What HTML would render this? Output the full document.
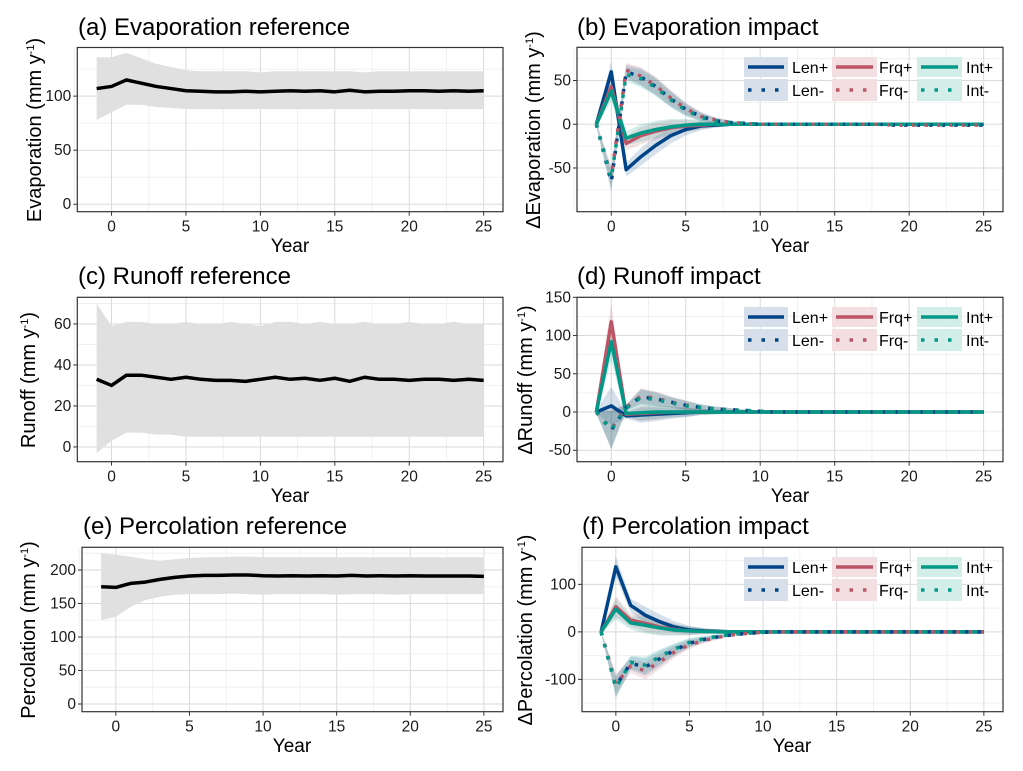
<!DOCTYPE html>
<html><head><meta charset="utf-8"><style>
html,body{margin:0;padding:0;background:#fff;}
svg{display:block;font-family:"Liberation Sans",Arial,sans-serif;}
</style></head><body>
<svg id="chart" width="1023" height="771" viewBox="0 0 1023 771">
<rect x="0" y="0" width="1023" height="771" fill="#fff"/>
<g id="layer"></g>
<text x="78" y="35" font-size="24" fill="#000">(a) Evaporation reference</text>
<text x="577" y="35" font-size="24" fill="#000">(b) Evaporation impact</text>
<text x="78" y="284" font-size="24" fill="#000">(c) Runoff reference</text>
<text x="577" y="284" font-size="24" fill="#000">(d) Runoff impact</text>
<text x="83" y="534" font-size="24" fill="#000">(e) Percolation reference</text>
<text x="582" y="534" font-size="24" fill="#000">(f) Percolation impact</text>
<text x="290" y="252" font-size="19" text-anchor="middle">Year</text>
<text x="790" y="252" font-size="19" text-anchor="middle">Year</text>
<text x="290" y="502" font-size="19" text-anchor="middle">Year</text>
<text x="790" y="502" font-size="19" text-anchor="middle">Year</text>
<text x="292" y="752" font-size="19" text-anchor="middle">Year</text>
<text x="792" y="752" font-size="19" text-anchor="middle">Year</text>
<text transform="translate(41,130) rotate(-90)" font-size="20" text-anchor="middle">Evaporation (mm y<tspan font-size="11" dy="-7">-1</tspan><tspan dy="7">)</tspan></text>
<text transform="translate(540,130) rotate(-90)" font-size="20" text-anchor="middle">ΔEvaporation (mm y<tspan font-size="11" dy="-7">-1</tspan><tspan dy="7">)</tspan></text>
<text transform="translate(35,380) rotate(-90)" font-size="20" text-anchor="middle">Runoff (mm y<tspan font-size="11" dy="-7">-1</tspan><tspan dy="7">)</tspan></text>
<text transform="translate(532,380) rotate(-90)" font-size="20" text-anchor="middle">ΔRunoff (mm y<tspan font-size="11" dy="-7">-1</tspan><tspan dy="7">)</tspan></text>
<text transform="translate(35,630) rotate(-90)" font-size="20" text-anchor="middle">Percolation (mm y<tspan font-size="11" dy="-7">-1</tspan><tspan dy="7">)</tspan></text>
<text transform="translate(532,630) rotate(-90)" font-size="20" text-anchor="middle">ΔPercolation (mm y<tspan font-size="11" dy="-7">-1</tspan><tspan dy="7">)</tspan></text>
<g transform="translate(0,0)">
 <g><rect x="744" y="57" width="44" height="20" fill="#d6dfea"/><line x1="748" x2="784" y1="67" y2="67" stroke="#004488" stroke-width="3.5"/><text x="792" y="73" font-size="16">Len+</text></g>
 <g><rect x="832" y="57" width="45" height="20" fill="#f3dfe2"/><line x1="836" x2="873" y1="67" y2="67" stroke="#bb5566" stroke-width="3.5"/><text x="879" y="73" font-size="16">Frq+</text></g>
 <g><rect x="917" y="57" width="45" height="20" fill="#d3ede9"/><line x1="921" x2="958" y1="67" y2="67" stroke="#009988" stroke-width="3.5"/><text x="966" y="73" font-size="16">Int+</text></g>
 <g><rect x="744" y="79" width="44" height="22" fill="#d6dfea"/><line x1="748" x2="784" y1="90" y2="90" stroke="#004488" stroke-width="3.5" stroke-dasharray="3.5 10"/><text x="792" y="96" font-size="16">Len-</text></g>
 <g><rect x="832" y="79" width="45" height="22" fill="#f3dfe2"/><line x1="836" x2="873" y1="90" y2="90" stroke="#bb5566" stroke-width="3.5" stroke-dasharray="3.5 10"/><text x="879" y="96" font-size="16">Frq-</text></g>
 <g><rect x="917" y="79" width="45" height="22" fill="#d3ede9"/><line x1="921" x2="958" y1="90" y2="90" stroke="#009988" stroke-width="3.5" stroke-dasharray="3.5 10"/><text x="966" y="96" font-size="16">Int-</text></g>
</g>
<g transform="translate(0,250)">
 <g><rect x="744" y="57" width="44" height="20" fill="#d6dfea"/><line x1="748" x2="784" y1="67" y2="67" stroke="#004488" stroke-width="3.5"/><text x="792" y="73" font-size="16">Len+</text></g>
 <g><rect x="832" y="57" width="45" height="20" fill="#f3dfe2"/><line x1="836" x2="873" y1="67" y2="67" stroke="#bb5566" stroke-width="3.5"/><text x="879" y="73" font-size="16">Frq+</text></g>
 <g><rect x="917" y="57" width="45" height="20" fill="#d3ede9"/><line x1="921" x2="958" y1="67" y2="67" stroke="#009988" stroke-width="3.5"/><text x="966" y="73" font-size="16">Int+</text></g>
 <g><rect x="744" y="79" width="44" height="22" fill="#d6dfea"/><line x1="748" x2="784" y1="90" y2="90" stroke="#004488" stroke-width="3.5" stroke-dasharray="3.5 10"/><text x="792" y="96" font-size="16">Len-</text></g>
 <g><rect x="832" y="79" width="45" height="22" fill="#f3dfe2"/><line x1="836" x2="873" y1="90" y2="90" stroke="#bb5566" stroke-width="3.5" stroke-dasharray="3.5 10"/><text x="879" y="96" font-size="16">Frq-</text></g>
 <g><rect x="917" y="79" width="45" height="22" fill="#d3ede9"/><line x1="921" x2="958" y1="90" y2="90" stroke="#009988" stroke-width="3.5" stroke-dasharray="3.5 10"/><text x="966" y="96" font-size="16">Int-</text></g>
</g>
<g transform="translate(0,500)">
 <g><rect x="744" y="57" width="44" height="20" fill="#d6dfea"/><line x1="748" x2="784" y1="67" y2="67" stroke="#004488" stroke-width="3.5"/><text x="792" y="73" font-size="16">Len+</text></g>
 <g><rect x="832" y="57" width="45" height="20" fill="#f3dfe2"/><line x1="836" x2="873" y1="67" y2="67" stroke="#bb5566" stroke-width="3.5"/><text x="879" y="73" font-size="16">Frq+</text></g>
 <g><rect x="917" y="57" width="45" height="20" fill="#d3ede9"/><line x1="921" x2="958" y1="67" y2="67" stroke="#009988" stroke-width="3.5"/><text x="966" y="73" font-size="16">Int+</text></g>
 <g><rect x="744" y="79" width="44" height="22" fill="#d6dfea"/><line x1="748" x2="784" y1="90" y2="90" stroke="#004488" stroke-width="3.5" stroke-dasharray="3.5 10"/><text x="792" y="96" font-size="16">Len-</text></g>
 <g><rect x="832" y="79" width="45" height="22" fill="#f3dfe2"/><line x1="836" x2="873" y1="90" y2="90" stroke="#bb5566" stroke-width="3.5" stroke-dasharray="3.5 10"/><text x="879" y="96" font-size="16">Frq-</text></g>
 <g><rect x="917" y="79" width="45" height="22" fill="#d3ede9"/><line x1="921" x2="958" y1="90" y2="90" stroke="#009988" stroke-width="3.5" stroke-dasharray="3.5 10"/><text x="966" y="96" font-size="16">Int-</text></g>
</g>
</svg>
<script>
const years = [-1,0,1,2,3,4,5,6,7,8,9,10,11,12,13,14,15,16,17,18,19,20,21,22,23,24,25];
const xTicks = [0,5,10,15,20,25];

const evapRefMean  = [107,109,115,112,109,107,105,104.5,104,104,104.5,104,104.5,105,104.5,105,104,105.5,104,104.5,104.5,105,105,104.5,105,104.5,105];
const evapRefUpper = [136,136,140,135,130,127,124,123,123,123,123,122,123,123,123,123,123,123,122,123,123,123,123,123,123,123,123];
const evapRefLower = [78,85,92,92,90,89,88,88,88,88,88,88,88,88,88,88,88,88,88,88,88,88,88,88,88,88,88];
const runRefMean  = [33,30,35,35,34,33,34,33,32.5,32.5,32,33,34,33,33.5,32.5,33.5,32,34,33,33,32.5,33,33,32.5,33,32.5];
const runRefUpper = [70,59,61,61,60,60,61,60,60,61,60,59,61,61,60,61,60,60,61,60,60,61,60,60,61,60,60];
const runRefLower = [-3,3,7,7,6,6,5,5,5,5,5,5,5,5,5,5,5,5,5,5,5,5,5,5,5,5,5];
const percRefMean  = [175,174,180,182,186,189,191,192,192,192.5,192.5,191.5,191,191.5,191,191.5,191,192,191,191.5,191,191.5,191,191,191,191,190.5];
const percRefUpper = [225,223,220,216,214,216,218,219,219,220,220,219,219,219,219,219,219,219,219,219,219,219,219,219,219,219,219];
const percRefLower = [125,130,145,155,160,163,164,164,164,165,164,163,164,164,164,164,163,164,164,164,163,164,164,164,164,164,164];

const evapLenPlus  = [0,60,-52,-37,-24,-13,-6,-2,-1,0,0,0,0,0,0,0,0,0,0,0,0,0,0,0,0,0,0];
const evapFrqPlus  = [0,43,-22,-13,-8,-4,-2,-1,0,0,0,0,0,0,0,0,0,0,0,0,0,0,0,0,0,0,0];
const evapIntPlus  = [0,38,-16,-10,-6,-3,-1,0,0,0,0,0,0,0,0,0,0,0,0,0,0,0,0,0,0,0,0];
const evapLenMinus = [0,-66,60,54,43,29,17,9,4,2,1,0,0,0,0,0,0,0,0,0,-1,-1,-1,-1,-1,-1,-1];
const evapFrqMinus = [0,-60,62,55,44,30,18,9,5,2,1,0,0,0,0,0,0,0,0,0,-1,-1,-1,-1,-1,-1,-1];
const evapIntMinus = [0,-62,57,52,42,28,16,8,4,2,1,0,0,0,0,0,0,0,0,0,0,0,0,0,0,0,0];
const evapSd       = [2,12,8,10,10,9,7,5,3,2,1,1,1,1,1,1,1,1,1,1,1,1,1,1,1,1,1];

const runLenPlus  = [0,8,-5,-4,-3,-2,-1,0,0,0,0,0,0,0,0,0,0,0,0,0,0,0,0,0,0,0,0];
const runFrqPlus  = [0,118,-3,-2,-1,0,0,0,0,0,0,0,0,0,0,0,0,0,0,0,0,0,0,0,0,0,0];
const runIntPlus  = [0,92,-2,-1,0,0,0,0,0,0,0,0,0,0,0,0,0,0,0,0,0,0,0,0,0,0,0];
const runLenMinus = [0,-24,6,20,17,13,9,6,4,3,2,1,0,0,0,0,0,0,0,0,0,0,0,0,0,0,0];
const runFrqMinus = [0,-22,6,21,18,13,9,6,4,3,2,1,0,0,0,0,0,0,0,0,0,0,0,0,0,0,0];
const runIntMinus = [0,-23,5,19,16,12,8,6,4,3,2,1,0,0,0,0,0,0,0,0,0,0,0,0,0,0,0];
const runSd       = [2,25,4,10,9,7,6,4,3,2,1,1,1,1,1,1,1,1,1,1,1,1,1,1,1,1,1];

const percLenPlus  = [0,137,56,35,21,10,4,2,1,0,0,0,0,0,0,0,0,0,0,0,0,0,0,0,0,0,0];
const percFrqPlus  = [0,53,25,18,10,5,2,1,0,0,0,0,0,0,0,0,0,0,0,0,0,0,0,0,0,0,0];
const percIntPlus  = [0,48,19,14,8,4,2,1,0,0,0,0,0,0,0,0,0,0,0,0,0,0,0,0,0,0,0];
const percLenMinus = [0,-114,-66,-74,-56,-38,-24,-16,-10,-6,-3,-1,0,0,0,0,0,0,0,0,0,0,0,0,0,0,0];
const percFrqMinus = [0,-110,-72,-82,-62,-42,-27,-18,-11,-6,-3,-1,0,0,0,0,0,0,0,0,0,0,0,0,0,0,0];
const percIntMinus = [0,-118,-64,-70,-52,-36,-22,-14,-9,-5,-3,-1,0,0,0,0,0,0,0,0,0,0,0,0,0,0,0];
const percSd       = [2,22,14,18,16,12,9,6,4,2,1,1,1,1,1,1,1,1,1,1,1,1,1,1,1,1,1];

const evapRefTicks = [0,50,100];
const evapImpTicks = [-50,0,50];
const runRefTicks = [0,20,40,60];
const runImpTicks = [-50,0,50,100,150];
const percRefTicks = [0,50,100,150,200];
const percImpTicks = [-100,0,100];

const NS = "http://www.w3.org/2000/svg";
const layer = document.getElementById("layer");
const COLORS = {len:"#004488", frq:"#bb5566", int:"#009988"};

function mk(tag, attrs, parent){
  const e = document.createElementNS(NS, tag);
  for (const k in attrs) e.setAttribute(k, attrs[k]);
  (parent||layer).appendChild(e);
  return e;
}

function makePanel(name, L, R, T, B, ymin, ymax, yTicks){
  const g = mk("g", {});
  
  
  const xs = v => L + (v + 2.3) / 28.6 * (R - L);
  const ys = v => B - (v - ymin) / (ymax - ymin) * (B - T);
  const step = yTicks[1] - yTicks[0];
  for (let v = yTicks[0] - step/2; v <= ymax; v += step) {
    if (v < ymin) continue;
    const ln = mk("line", {x1:L, x2:R, y1:ys(v), y2:ys(v), stroke:"#f0f0f0", "stroke-width":1}, g);
    
    
  }
  for (let v = -2.5; v <= 26; v += 5) {
    const ln = mk("line", {x1:xs(v), x2:xs(v), y1:T, y2:B, stroke:"#f0f0f0", "stroke-width":1}, g);
    
    
  }
  yTicks.forEach(v => {
    const ln = mk("line", {x1:L, x2:R, y1:ys(v), y2:ys(v), stroke:"#dadada", "stroke-width":1}, g);
    
    
    const tk = mk("line", {x1:L-4, x2:L, y1:ys(v), y2:ys(v), stroke:"#333", "stroke-width":1}, g);
    
    
    const t = mk("text", {x:L-6, y:ys(v)+5, "font-size":15.5, "text-anchor":"end", fill:"#1a1a1a"}, g);
    
    
    t.textContent = v;
  });
  xTicks.forEach(v => {
    const ln = mk("line", {x1:xs(v), x2:xs(v), y1:T, y2:B, stroke:"#dadada", "stroke-width":1}, g);
    
    
    const tk = mk("line", {x1:xs(v), x2:xs(v), y1:B, y2:B+4, stroke:"#333", "stroke-width":1}, g);
    
    
    const t = mk("text", {x:xs(v), y:B+20, "font-size":15.5, "text-anchor":"middle", fill:"#1a1a1a"}, g);
    
    
    t.textContent = v;
  });
  const marks = mk("g", {}, g);
  
  
  const border = mk("rect", {x:L, y:T, width:R-L, height:B-T, fill:"none", stroke:"#333", "stroke-width":1.2}, g);
  
  
  return {xs, ys, marks};
}

function bandPath(p, upper, lower){
  let d = "";
  years.forEach((yr,i) => { d += (i ? "L" : "M") + p.xs(yr).toFixed(2) + "," + p.ys(upper[i]).toFixed(2); });
  for (let i = years.length - 1; i >= 0; i--) d += "L" + p.xs(years[i]).toFixed(2) + "," + p.ys(lower[i]).toFixed(2);
  return d + "Z";
}
function linePath(p, vals){
  let d = "";
  years.forEach((yr,i) => { d += (i ? "L" : "M") + p.xs(yr).toFixed(2) + "," + p.ys(vals[i]).toFixed(2); });
  return d;
}

function refPanel(name, cfg, mean, up, lo){
  const p = makePanel(name, ...cfg);
  const band = mk("path", {d:bandPath(p, up, lo), fill:"#e0e0e0"}, p.marks);
  
  
  const ln = mk("path", {d:linePath(p, mean), fill:"none", stroke:"#000", "stroke-width":3.5, "stroke-linejoin":"round"}, p.marks);
  
  
}

function impactPanel(name, cfg, series, sd){
  const p = makePanel(name, ...cfg);
  series.forEach(s => {
    const up = s.vals.map((v,i) => v + sd[i]);
    const lo = s.vals.map((v,i) => v - sd[i]);
    const band = mk("path", {d:bandPath(p, up, lo), fill:COLORS[s.key], "fill-opacity":0.16}, p.marks);
    
    
  });
  series.forEach(s => {
    const attrs = {d:linePath(p, s.vals), fill:"none", stroke:COLORS[s.key], "stroke-width":3.5, "stroke-linejoin":"round"};
    if (s.dot) attrs["stroke-dasharray"] = "3.5 9";
    const ln = mk("path", attrs, p.marks);
    
    
  });
}

refPanel("panel-a", [77.3,503,47.5,211.7,-6.9,145,evapRefTicks], evapRefMean, evapRefUpper, evapRefLower);
refPanel("panel-c", [77.3,503,297.3,461.7,-7.2,73,runRefTicks], runRefMean, runRefUpper, runRefLower);
refPanel("panel-e", [82,503,547.3,711.7,-11.5,233.9,percRefTicks], percRefMean, percRefUpper, percRefLower);

impactPanel("panel-b", [577,1003,47.3,211.7,-100,88,evapImpTicks], [
  {id:"len-plus",key:"len",vals:evapLenPlus},{id:"frq-plus",key:"frq",vals:evapFrqPlus},{id:"int-plus",key:"int",vals:evapIntPlus},
  {id:"len-minus",key:"len",vals:evapLenMinus,dot:1},{id:"frq-minus",key:"frq",vals:evapFrqMinus,dot:1},{id:"int-minus",key:"int",vals:evapIntMinus,dot:1}], evapSd);
impactPanel("panel-d", [577,1003,297.3,461.7,-65,150,runImpTicks], [
  {id:"len-plus",key:"len",vals:runLenPlus},{id:"frq-plus",key:"frq",vals:runFrqPlus},{id:"int-plus",key:"int",vals:runIntPlus},
  {id:"len-minus",key:"len",vals:runLenMinus,dot:1},{id:"frq-minus",key:"frq",vals:runFrqMinus,dot:1},{id:"int-minus",key:"int",vals:runIntMinus,dot:1}], runSd);
impactPanel("panel-f", [582,1003,547.3,711.7,-168,178,percImpTicks], [
  {id:"len-plus",key:"len",vals:percLenPlus},{id:"frq-plus",key:"frq",vals:percFrqPlus},{id:"int-plus",key:"int",vals:percIntPlus},
  {id:"len-minus",key:"len",vals:percLenMinus,dot:1},{id:"frq-minus",key:"frq",vals:percFrqMinus,dot:1},{id:"int-minus",key:"int",vals:percIntMinus,dot:1}], percSd);
</script>
</body></html>
